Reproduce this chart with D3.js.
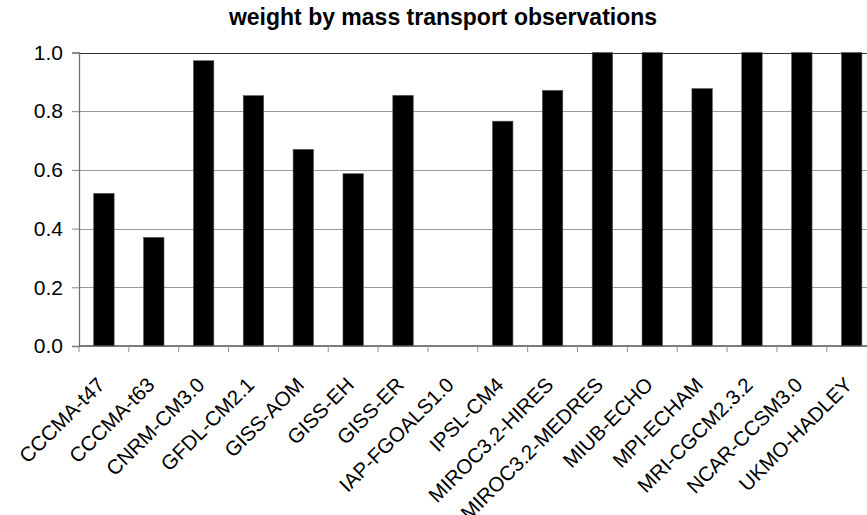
<!DOCTYPE html>
<html>
<head>
<meta charset="utf-8">
<script src="https://cdn.jsdelivr.net/npm/d3@7"></script>
<style>
  html, body { margin: 0; padding: 0; background: #fff; }
  svg { display: block; }
  text { font-family: "Liberation Sans", Arial, sans-serif; fill: #000; }
</style>
</head>
<body>
<svg id="chart" width="867" height="515"></svg>
<script>
const categories = ["CCCMA-t47","CCCMA-t63","CNRM-CM3.0","GFDL-CM2.1","GISS-AOM","GISS-EH","GISS-ER","IAP-FGOALS1.0","IPSL-CM4","MIROC3.2-HIRES","MIROC3.2-MEDRES","MIUB-ECHO","MPI-ECHAM","MRI-CGCM2.3.2","NCAR-CCSM3.0","UKMO-HADLEY"];
const weights = [0.520, 0.370, 0.972, 0.853, 0.670, 0.587, 0.854, 0.0, 0.766, 0.871, 1.0, 1.0, 0.877, 1.0, 1.0, 1.0];
const yTicks = [0.0, 0.2, 0.4, 0.6, 0.8, 1.0];
const titleText = "weight by mass transport observations";

const svg = d3.select("#chart");
const mLeft = 79, mRight = 876.6, mTop = 52.5, mBottom = 346;
const pad = 0.59;

const x = d3.scaleBand().domain(categories).range([mLeft, mRight]).paddingInner(pad).paddingOuter(pad / 2);
const y = d3.scaleLinear().domain([0, 1]).range([mBottom, mTop]);
const step = x.step();

// gridlines
svg.append("g").selectAll("line").data(yTicks.filter(d => d > 0 && d < 1)).join("line")
  .attr("x1", mLeft).attr("x2", mRight)
  .attr("y1", d => Math.round(y(d)) + 0.5).attr("y2", d => Math.round(y(d)) + 0.5)
  .attr("stroke", "#9a9a9a").attr("stroke-width", 1);
// top line
svg.append("line").attr("x1", mLeft).attr("x2", mRight)
  .attr("y1", Math.round(y(1)) + 0.5).attr("y2", Math.round(y(1)) + 0.5)
  .attr("stroke", "#333").attr("stroke-width", 1.2);

// bars
svg.append("g").selectAll("rect").data(categories).join("rect")
  .attr("x", d => x(d))
  .attr("width", x.bandwidth())
  .attr("y", (d, i) => y(weights[i]))
  .attr("height", (d, i) => y(0) - y(weights[i]))
  .attr("fill", "#000")
  .attr("stroke", "#555").attr("stroke-width", 0.6);

// y axis
const yAxis = d3.axisLeft(y).tickValues(yTicks).tickFormat(d3.format(".1f")).tickSize(7).tickPadding(9);
const gy = svg.append("g").attr("transform", `translate(${mLeft},0)`).call(yAxis);
gy.select(".domain").attr("stroke", "#707070").attr("stroke-width", 1.3);
gy.selectAll(".tick line").attr("stroke", "#808080");
gy.selectAll(".tick text")
  .attr("font-size", 21).attr("font-family", "Liberation Sans, Arial, sans-serif")
  .attr("fill", "#000")
  .attr("x", -16)
  .attr("text-anchor", "end");

// x axis line and ticks at band boundaries
const boundaries = d3.range(categories.length + 1).map(i => mLeft + i * step);
svg.append("line").attr("x1", mLeft).attr("x2", mRight)
  .attr("y1", y(0)).attr("y2", y(0)).attr("stroke", "#505050").attr("stroke-width", 1.5);
svg.append("g").selectAll("line").data(boundaries).join("line")
  .attr("x1", d => d).attr("x2", d => d)
  .attr("y1", y(0)).attr("y2", y(0) + 6)
  .attr("stroke", "#909090").attr("stroke-width", 1);

// x labels
svg.append("g").selectAll("text").data(categories).join("text")
  .attr("transform", d => `translate(${x(d) + x.bandwidth() / 2 - 3},${y(0) + 35}) rotate(-45)`)
  .attr("text-anchor", "end")
  .attr("dy", "0.35em")
  .attr("font-size", 20.5)
  .text(d => d);

// title
svg.append("text")
  .attr("x", 443).attr("y", 25)
  .attr("text-anchor", "middle")
  .attr("font-size", 23)
  .attr("font-weight", "bold")
  .text(titleText);
</script>
</body>
</html>
